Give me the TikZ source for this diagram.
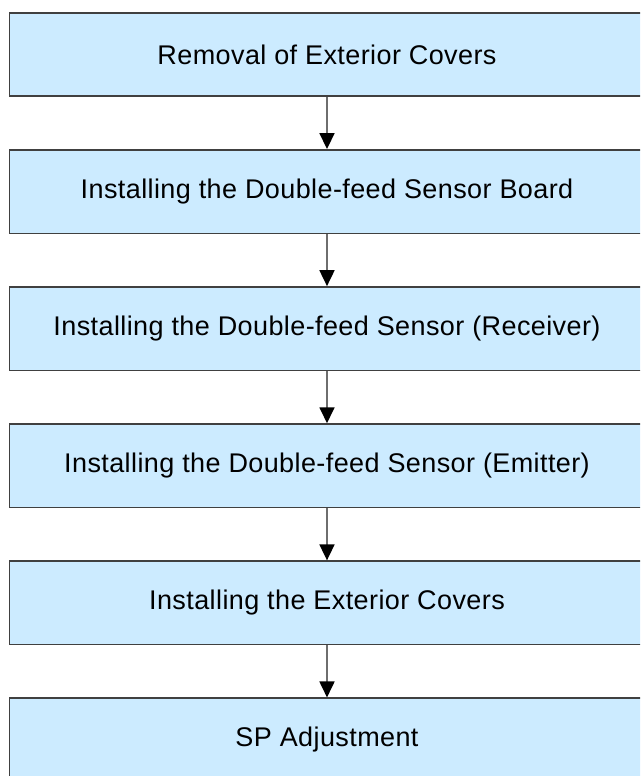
\documentclass[tikz,border=0pt]{standalone}
\usepackage{fontspec}
\usepackage{xcolor}
\usepackage{tikz}
\usetikzlibrary{arrows.meta,positioning}
\newfontfamily\stepfont[LetterSpace=1.5]{Liberation Sans}
\definecolor{Fill}{HTML}{CCEBFF}
\definecolor{Edge}{HTML}{404040}
\definecolor{Shaft}{HTML}{6E6E6E}

\begin{document}
\begin{tikzpicture}[
  x=1pt,y=-1pt,
  node distance=52pt,
  stepbox/.style={draw=Edge,line width=1.6pt,fill=Fill,minimum width=635pt,minimum height=83.5pt,inner sep=0pt,align=center,font=\stepfont\fontsize{27}{31}\selectfont},
  arr/.style={-{Triangle[length=16pt,width=15pt,color=black]},line width=1.8pt,draw=Shaft}
]
  \useasboundingbox (0,0) rectangle (640,776);
  \clip (0,0) rectangle (640,776);
  \node[stepbox] (removal) at (327,54.5) {Removal of Exterior Covers};
  \node[stepbox,below=of removal] (board) {Installing the Double-feed Sensor Board};
  \node[stepbox,below=of board] (receiver) {Installing the Double-feed Sensor (Receiver)};
  \node[stepbox,below=of receiver] (emitter) {Installing the Double-feed Sensor (Emitter)};
  \node[stepbox,below=of emitter] (covers) {Installing the Exterior Covers};
  \node[stepbox,below=of covers] (sp) {SP Adjustment};
  \draw[arr] (removal) -- (board);
  \draw[arr] (board) -- (receiver);
  \draw[arr] (receiver) -- (emitter);
  \draw[arr] (emitter) -- (covers);
  \draw[arr] (covers) -- (sp);
\end{tikzpicture}
\end{document}
